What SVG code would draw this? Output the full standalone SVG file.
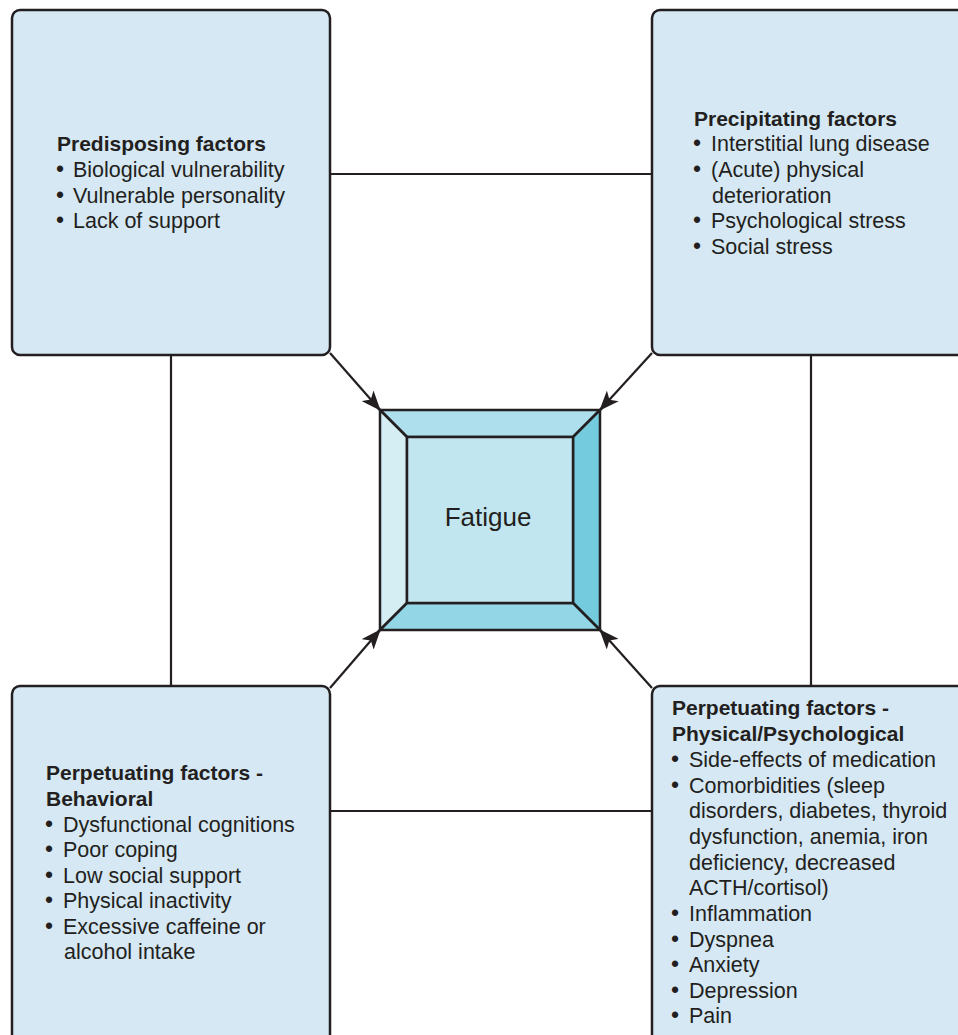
<svg xmlns="http://www.w3.org/2000/svg" width="958" height="1035" viewBox="0 0 958 1035">
<style>
.box{fill:#D5E8F3;stroke:#231F20;stroke-width:2.5}
.t{font-family:"Liberation Sans",Arial,sans-serif;font-size:21.5px;fill:#231F20}
.b{font-weight:bold;font-size:21px}
.bu{font-size:23px}
.conn{stroke:#231F20;stroke-width:2.2;fill:none}
.bev{stroke:#231F20;stroke-width:2.5;stroke-linejoin:miter}
</style>
<defs>
<marker id="ah" viewBox="0 0 20 16" refX="19" refY="8" markerWidth="20" markerHeight="16" markerUnits="userSpaceOnUse" orient="auto">
<path d="M0,0 L20,8 L0,16 L5,8 Z" fill="#231F20"/>
</marker>
</defs>
<rect width="958" height="1035" fill="#FFFFFF"/>
<g id="connectors">
<line class="conn" x1="330" y1="174" x2="652" y2="174"/>
<line class="conn" x1="330" y1="811" x2="652" y2="811"/>
<line class="conn" x1="171" y1="355" x2="171" y2="686"/>
<line class="conn" x1="811" y1="355" x2="811" y2="686"/>
<line class="conn" x1="330" y1="353" x2="380" y2="410" marker-end="url(#ah)"/>
<line class="conn" x1="652" y1="353" x2="600" y2="410" marker-end="url(#ah)"/>
<line class="conn" x1="330" y1="688" x2="380" y2="630" marker-end="url(#ah)"/>
<line class="conn" x1="652" y1="688" x2="600" y2="630" marker-end="url(#ah)"/>
</g>
<g id="predisposing">
<rect class="box" x="12" y="10" width="318" height="345" rx="8"/>
<text class="t b" x="57" y="151">Predisposing factors</text>
<text class="t"><tspan class="bu" x="56" y="177">•</tspan><tspan x="73">Biological vulnerability</tspan></text>
<text class="t"><tspan class="bu" x="56" y="202.5">•</tspan><tspan x="73">Vulnerable personality</tspan></text>
<text class="t"><tspan class="bu" x="56" y="228">•</tspan><tspan x="73">Lack of support</tspan></text>
</g>
<g id="precipitating">
<rect class="box" x="652" y="10" width="330" height="345" rx="8"/>
<text class="t b" x="694" y="126">Precipitating factors</text>
<text class="t"><tspan class="bu" x="693" y="151">•</tspan><tspan x="711">Interstitial lung disease</tspan></text>
<text class="t"><tspan class="bu" x="693" y="177">•</tspan><tspan x="711">(Acute) physical</tspan></text>
<text class="t" x="712" y="202.5">deterioration</text>
<text class="t"><tspan class="bu" x="693" y="228">•</tspan><tspan x="711">Psychological stress</tspan></text>
<text class="t"><tspan class="bu" x="693" y="254">•</tspan><tspan x="711">Social stress</tspan></text>
</g>
<g id="behavioral">
<rect class="box" x="12" y="686" width="318" height="370" rx="8"/>
<text class="t b" x="46" y="780">Perpetuating factors -</text>
<text class="t b" x="46" y="805.5">Behavioral</text>
<text class="t"><tspan class="bu" x="45" y="831.5">•</tspan><tspan x="63">Dysfunctional cognitions</tspan></text>
<text class="t"><tspan class="bu" x="45" y="857">•</tspan><tspan x="63">Poor coping</tspan></text>
<text class="t"><tspan class="bu" x="45" y="882.5">•</tspan><tspan x="63">Low social support</tspan></text>
<text class="t"><tspan class="bu" x="45" y="908">•</tspan><tspan x="63">Physical inactivity</tspan></text>
<text class="t"><tspan class="bu" x="45" y="933.5">•</tspan><tspan x="63">Excessive caffeine or</tspan></text>
<text class="t" x="64" y="959">alcohol intake</text>
</g>
<g id="physical">
<rect class="box" x="652" y="686" width="330" height="370" rx="8"/>
<text class="t b" x="672" y="715">Perpetuating factors -</text>
<text class="t b" x="672" y="741">Physical/Psychological</text>
<text class="t"><tspan class="bu" x="671" y="766.5">•</tspan><tspan x="689">Side-effects of medication</tspan></text>
<text class="t"><tspan class="bu" x="671" y="792.5">•</tspan><tspan x="689">Comorbidities (sleep</tspan></text>
<text class="t" x="689" y="818">disorders, diabetes, thyroid</text>
<text class="t" x="689" y="844">dysfunction, anemia, iron</text>
<text class="t" x="689" y="869.5">deficiency, decreased</text>
<text class="t" x="689" y="895">ACTH/cortisol)</text>
<text class="t"><tspan class="bu" x="671" y="920.5">•</tspan><tspan x="689">Inflammation</tspan></text>
<text class="t"><tspan class="bu" x="671" y="946.5">•</tspan><tspan x="689">Dyspnea</tspan></text>
<text class="t"><tspan class="bu" x="671" y="972">•</tspan><tspan x="689">Anxiety</tspan></text>
<text class="t"><tspan class="bu" x="671" y="997.5">•</tspan><tspan x="689">Depression</tspan></text>
<text class="t"><tspan class="bu" x="671" y="1023">•</tspan><tspan x="689">Pain</tspan></text>
</g>
<g id="fatigue">
<polygon class="bev" points="380,410 600,410 573,437 407,437" fill="#ADDFEC"/>
<polygon class="bev" points="380,410 407,437 407,603 380,630" fill="#D5EEF4"/>
<polygon class="bev" points="600,410 600,630 573,603 573,437" fill="#74CBDE"/>
<polygon class="bev" points="380,630 407,603 573,603 600,630" fill="#93D7E6"/>
<rect class="bev" x="407" y="437" width="166" height="166" fill="#C2E6EF"/>
<text x="488" y="526" text-anchor="middle" style="font-family:'Liberation Sans',Arial,sans-serif;font-size:26px;fill:#231F20">Fatigue</text>
</g>
</svg>
